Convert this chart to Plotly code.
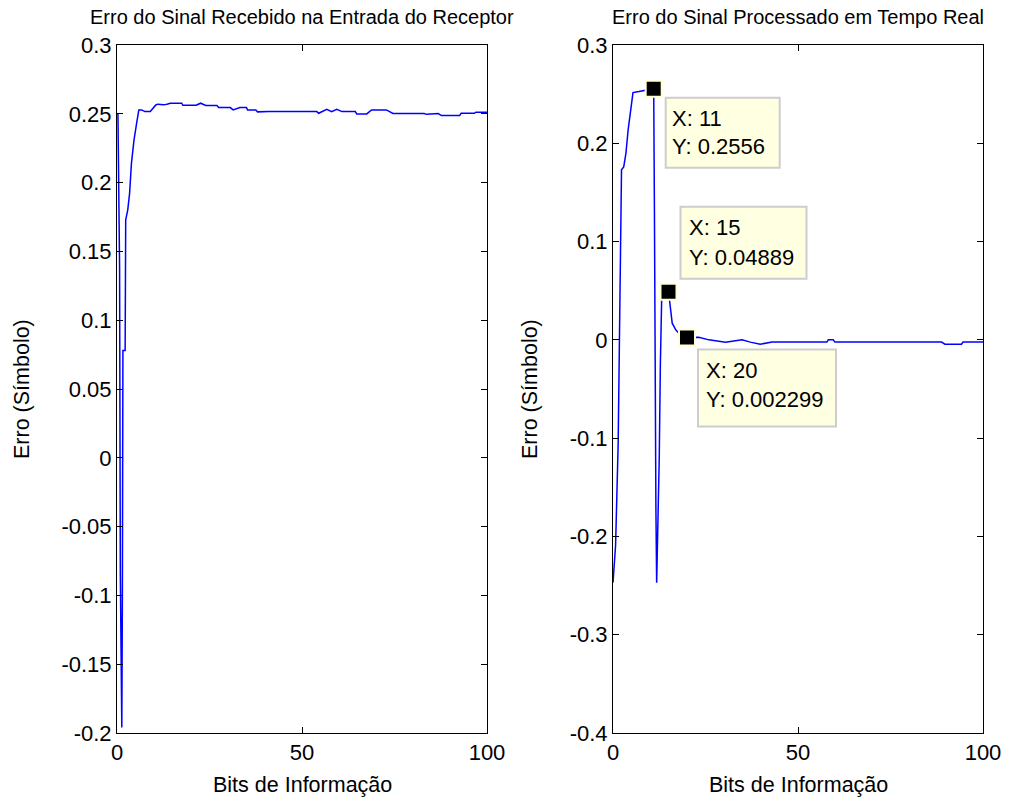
import plotly.graph_objects as go

# ---------------- data ----------------
left_x = [0.25, 0.7, 0.9, 1.3, 1.45, 1.6, 2.2, 2.35, 2.9, 3.4, 3.9, 4.6, 5.3, 5.9, 6.7, 7.5, 9.0,
          10.5, 11, 12.6, 13.5, 14.4, 17.5, 17.8, 21.4, 22.6, 24, 27, 27.5, 30.6, 31.4, 33.2, 35,
          35.3, 37.5, 38, 41, 54, 54.5, 55.4, 56.7, 58, 59.4, 60.8, 64.4, 64.8, 67.5, 68.8, 72.8,
          74.6, 83, 83.7, 86.8, 87.7, 92.6, 93, 96.6, 97, 100]
left_y = [0.25, 0.139, -0.084, -0.196, -0.103, 0.078, 0.078, 0.173, 0.18, 0.192, 0.214, 0.231,
          0.243, 0.2528, 0.2528, 0.2516, 0.2516, 0.2564, 0.257, 0.2565, 0.257, 0.2577, 0.2577,
          0.2562, 0.2562, 0.2577, 0.256, 0.256, 0.2545, 0.2545, 0.2528, 0.2545, 0.2545, 0.2528,
          0.2528, 0.2514, 0.2516, 0.2516, 0.2504, 0.2516, 0.2533, 0.2516, 0.2533, 0.2516, 0.2516,
          0.2499, 0.2499, 0.2528, 0.2528, 0.2502, 0.2502, 0.2496, 0.2502, 0.2487, 0.2487, 0.2504,
          0.2504, 0.2512, 0.2512]

right_x = [0, 0.3, 0.7, 1.4, 1.9, 2.3, 2.9, 3.5, 4.1, 4.7, 5.4, 7, 9, 11, 11.2, 11.4, 11.6, 11.8,
           12.2, 12.5, 12.8, 13.2, 14, 15, 15.6, 16, 17, 18, 19, 20, 23.2, 25.9, 30.4, 34.9, 37.1,
           39.8, 43, 57.8, 58.2, 59.5, 60, 88.8, 89.7, 94.2, 94.6, 100]
right_y = [-0.247, -0.232, -0.209, -0.105, 0.08, 0.173, 0.176, 0.19, 0.214, 0.234, 0.2516, 0.2526,
           0.254, 0.2556, 0.13, -0.12, -0.173, -0.247, -0.173, -0.12, -0.025, 0.05, 0.05, 0.04889,
           0.03, 0.017, 0.01, 0.006, 0.004, 0.002299, 0.0027, 0.0, -0.0023, 0.0, -0.0023, -0.0044,
           -0.0023, -0.0023, 0.0, 0.0, -0.0023, -0.0023, -0.0044, -0.0044, -0.0023, -0.0023]

tip_x = [11, 15, 20]
tip_y = [0.2556, 0.04889, 0.002299]
tip_xlabels = ["X: 11", "X: 15", "X: 20"]
tip_ylabels = ["Y: 0.2556", "Y: 0.04889", "Y: 0.002299"]

x_tickvals = [0, 50, 100]
x_ticktext = ["0", "50", "100"]
left_tickvals = [0.3, 0.25, 0.2, 0.15, 0.1, 0.05, 0, -0.05, -0.1, -0.15, -0.2]
left_ticktext = ["0.3", "0.25", "0.2", "0.15", "0.1", "0.05", "0", "-0.05", "-0.1", "-0.15", "-0.2"]
right_tickvals = [0.3, 0.2, 0.1, 0, -0.1, -0.2, -0.3, -0.4]
right_ticktext = ["0.3", "0.2", "0.1", "0", "-0.1", "-0.2", "-0.3", "-0.4"]

title_left = "Erro do Sinal Recebido na Entrada do Receptor"
title_right = "Erro do Sinal Processado em Tempo Real"
xlabel = "Bits de Informação"
ylabel = "Erro (Símbolo)"

# ---------------- figure ----------------
W, H = 1009, 800
FONT = "Liberation Sans, Arial, sans-serif"
BLUE = "rgb(0,0,255)"

fig = go.Figure()
fig.add_trace(go.Scatter(x=left_x, y=left_y, mode="lines", line=dict(color=BLUE, width=1.5),
                         xaxis="x", yaxis="y", showlegend=False, hoverinfo="skip"))
fig.add_trace(go.Scatter(x=right_x, y=right_y, mode="lines", line=dict(color=BLUE, width=1.5),
                         xaxis="x2", yaxis="y2", showlegend=False, hoverinfo="skip"))
fig.add_trace(go.Scatter(x=tip_x, y=tip_y, mode="markers",
                         marker=dict(symbol="square", size=16, color="black",
                                     line=dict(color="rgb(255,255,210)", width=2)),
                         xaxis="x2", yaxis="y2", showlegend=False, hoverinfo="skip"))

x0d = [117 / W, 487 / W]
x1d = [613 / W, 983 / W]
yd = [1 - 733 / H, 1 - 45 / H]

axis_common = dict(showline=True, linecolor="black", linewidth=1, mirror="ticks",
                   ticks="inside", ticklen=6, tickwidth=1, tickcolor="black",
                   showgrid=False, zeroline=False, automargin=False,
                   tickfont=dict(family=FONT, size=22, color="black"))

fig.update_layout(
    width=W, height=H, margin=dict(l=0, r=0, t=0, b=0, autoexpand=False),
    paper_bgcolor="white", plot_bgcolor="white",
    xaxis=dict(domain=x0d, range=[0, 100], tickvals=x_tickvals, ticktext=x_ticktext,
               anchor="y", **axis_common),
    yaxis=dict(domain=yd, range=[-0.2, 0.3], tickvals=left_tickvals, ticktext=left_ticktext,
               anchor="x", **axis_common),
    xaxis2=dict(domain=x1d, range=[0, 100], tickvals=x_tickvals, ticktext=x_ticktext,
                anchor="y2", **axis_common),
    yaxis2=dict(domain=yd, range=[-0.4, 0.3], tickvals=right_tickvals, ticktext=right_ticktext,
                anchor="x2", **axis_common),
)

ann = []
shapes = []
# titles and axis labels
for cx, txt in [((117 + 487) / 2 / W, title_left), ((613 + 983) / 2 / W, title_right)]:
    ann.append(dict(x=cx, y=1 - 17 / H, xref="paper", yref="paper", text=txt, showarrow=False,
                    xanchor="center", yanchor="middle",
                    font=dict(family=FONT, size=20, color="black")))
    ann.append(dict(x=cx, y=1 - 785 / H, xref="paper", yref="paper", text=xlabel, showarrow=False,
                    xanchor="center", yanchor="middle",
                    font=dict(family=FONT, size=21.5, color="black")))
for cx in [22 / W, 530 / W]:
    ann.append(dict(x=cx, y=1 - 389 / H, xref="paper", yref="paper", text=ylabel, showarrow=False,
                    textangle=-90, xanchor="center", yanchor="middle",
                    font=dict(family=FONT, size=21.5, color="black")))

# data tip boxes: (box dx0, dx1, dy0, dy1 in px, text dx, line1 dy, line2 dy) ; dy positive up
tips_geom = [(12, 126, -9, -79, 16, -30, -58),
             (12, 138, 13, 85, 18, 64, 34),
             (11, 149, -12, -89, 17, -33, -62)]
for i, (bx0, bx1, by0, by1, tx, l1, l2) in enumerate(tips_geom):
    shapes.append(dict(type="rect", xref="x2", yref="y2", xsizemode="pixel", ysizemode="pixel",
                       xanchor=tip_x[i], yanchor=tip_y[i], x0=bx0, x1=bx1, y0=by0, y1=by1,
                       fillcolor="rgb(255,255,225)", line=dict(color="rgb(205,205,205)", width=2),
                       layer="above"))
    for txt, dy in [(tip_xlabels[i], l1), (tip_ylabels[i], l2)]:
        ann.append(dict(x=tip_x[i], y=tip_y[i], xref="x2", yref="y2", text=txt, showarrow=False,
                        xanchor="left", yanchor="middle", xshift=tx, yshift=dy,
                        font=dict(family=FONT, size=22, color="black")))

fig.update_layout(annotations=ann, shapes=shapes)
fig.write_html("out.html")
